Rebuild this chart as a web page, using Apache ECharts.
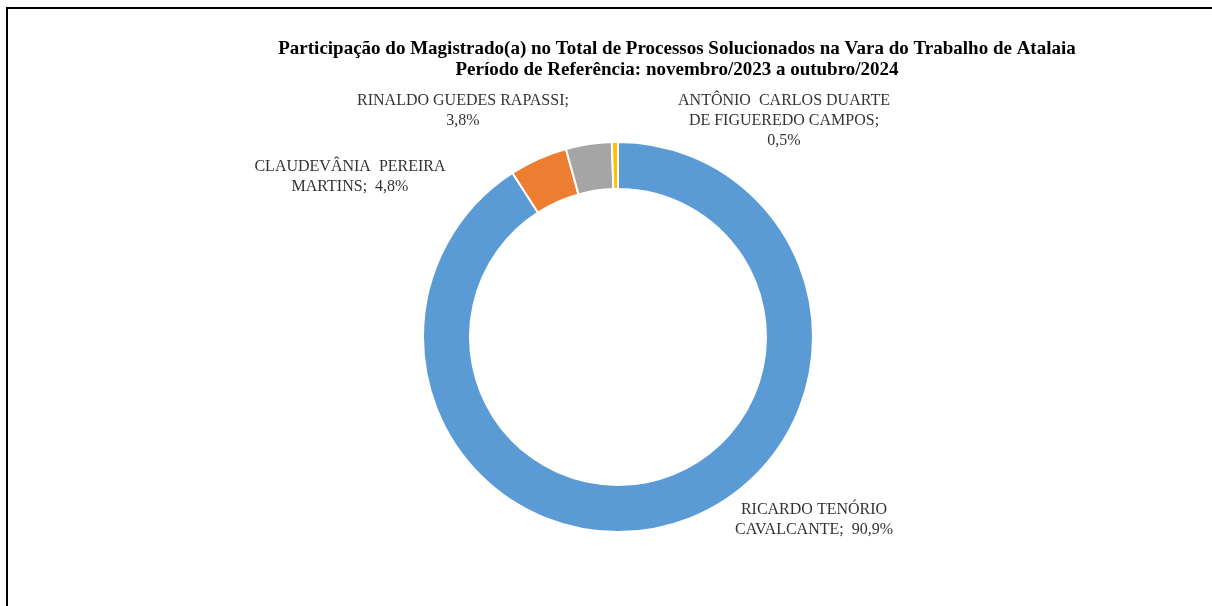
<!DOCTYPE html>
<html>
<head>
<meta charset="utf-8">
<script src="https://cdn.jsdelivr.net/npm/echarts@6/dist/echarts.min.js"></script>
<style>
  html, body { margin: 0; padding: 0; background: #fff; }
  #chart { width: 1212px; height: 606px; }
</style>
</head>
<body>
<div id="chart"></div>
<script>
// dados
const magistrados = [
  'RICARDO TENÓRIO CAVALCANTE',
  'CLAUDEVÂNIA PEREIRA MARTINS',
  'RINALDO GUEDES RAPASSI',
  'ANTÔNIO CARLOS DUARTE DE FIGUEREDO CAMPOS'
]
const participacao = [90.9, 4.8, 3.8, 0.5]
const cores = ['#5B9BD5', '#ED7D31', '#A5A5A5', '#FFC000']

// texto dos rótulos com as quebras de linha do original
const rotulos = [
  'RICARDO TENÓRIO\nCAVALCANTE;  {v}',
  'CLAUDEVÂNIA  PEREIRA\nMARTINS;  {v}',
  'RINALDO GUEDES RAPASSI;\n{v}',
  'ANTÔNIO  CARLOS DUARTE\nDE FIGUEREDO CAMPOS;\n{v}'
]
// posição (centro) de cada rótulo
const posRotulos = [[814, 520], [350, 177], [463, 111], [784, 121]]

const fmt = v => v.toFixed(1).replace('.', ',') + '%'

const chart = echarts.init(document.getElementById('chart'))
chart.setOption({
  backgroundColor: '#fff',
  title: {
    text: 'Participação do Magistrado(a) no Total de Processos Solucionados na Vara do Trabalho de Atalaia\nPeríodo de Referência: novembro/2023 a outubro/2024',
    left: 672,
    top: 34,
    textAlign: 'center',
    textStyle: {
      fontFamily: 'Liberation Serif',
      fontWeight: 'bold',
      fontSize: 19,
      lineHeight: 21,
      color: '#000'
    }
  },
  graphic: [
    { type: 'line', shape: { x1: 7, y1: 8, x2: 1212, y2: 8 }, style: { stroke: '#000', lineWidth: 2 } },
    { type: 'line', shape: { x1: 7, y1: 7, x2: 7, y2: 606 }, style: { stroke: '#000', lineWidth: 2 } }
  ],
  series: [{
    type: 'pie',
    center: [618, 337],
    radius: [148, 195],
    startAngle: 90,
    clockwise: true,
    silent: true,
    avoidLabelOverlap: false,
    itemStyle: { borderColor: '#fff', borderWidth: 2 },
    label: {
      show: true,
      position: 'outside',
      fontFamily: 'Liberation Serif',
      fontSize: 16,
      lineHeight: 20,
      color: '#333',
      align: 'center',
      formatter: p => rotulos[p.dataIndex].replace('{v}', fmt(p.value))
    },
    labelLine: { show: false },
    labelLayout: p => ({
      x: posRotulos[p.dataIndex][0],
      y: posRotulos[p.dataIndex][1],
      align: 'center',
      verticalAlign: 'middle'
    }),
    data: magistrados.map((n, i) => ({
      name: n,
      value: participacao[i],
      itemStyle: { color: cores[i] }
    }))
  }]
})
</script>
</body>
</html>
